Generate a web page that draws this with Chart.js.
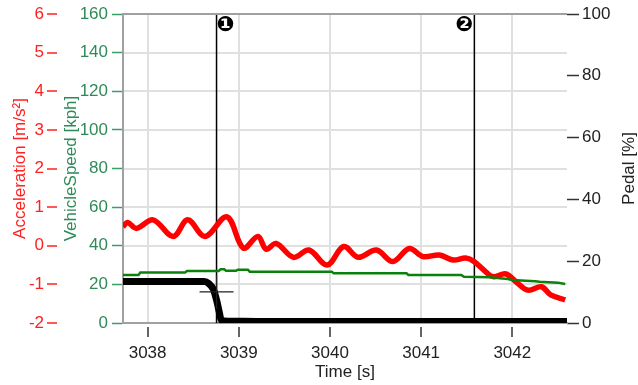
<!DOCTYPE html>
<html>
<head>
<meta charset="utf-8">
<script src="https://cdn.jsdelivr.net/npm/chart.js@4"></script>
<style>
  html, body { margin: 0; padding: 0; background: #fff; }
  #wrap { width: 638px; height: 385px; position: relative; }
</style>
</head>
<body>
<div id="wrap"><canvas id="chart"></canvas></div>
<script>
// acceleration [m/s²]
const accTime = [3037.73, 3037.78, 3037.88, 3038.06, 3038.28, 3038.44, 3038.63, 3038.87, 3039.05, 3039.21,
  3039.30, 3039.41, 3039.60, 3039.77, 3039.97, 3040.15, 3040.31, 3040.51, 3040.69, 3040.87,
  3041.02, 3041.20, 3041.35, 3041.49, 3041.58, 3041.75, 3041.80, 3041.93, 3042.04, 3042.17,
  3042.32, 3042.42, 3042.58];
const accValues = [0.49, 0.60, 0.45, 0.67, 0.24, 0.67, 0.24, 0.75, -0.06, 0.24,
  -0.09, 0.06, -0.30, -0.11, -0.50, -0.02, -0.30, -0.11, -0.41, -0.07,
  -0.28, -0.24, -0.37, -0.32, -0.41, -0.76, -0.80, -0.73, -0.93, -1.15,
  -1.06, -1.27, -1.40];

// vehicle speed [kph]
const speedTime = [3037.73, 3037.90, 3037.92, 3038.41, 3038.43, 3038.78, 3038.80, 3038.84, 3038.86, 3038.97,
  3038.99, 3039.10, 3039.12, 3040.02, 3040.04, 3040.84, 3040.86, 3041.44, 3041.47, 3041.75,
  3041.95, 3042.00, 3042.25, 3042.30, 3042.50, 3042.58];
const speedValues = [24.9, 24.9, 26.1, 26.1, 26.9, 26.9, 27.8, 27.8, 27.0, 27.0,
  27.6, 27.6, 26.6, 26.6, 25.7, 25.7, 24.9, 24.9, 23.9, 23.7,
  22.8, 22.3, 21.6, 21.3, 20.9, 20.2];

// pedal [%]
const pedalTime = [3037.73, 3038.62, 3038.67, 3038.72, 3038.76, 3038.79, 3038.81, 3038.90, 3039.20, 3042.60];
const pedalValues = [13.4, 13.4, 12.8, 11.0, 7.0, 3.0, 0.8, 0.6, 0.5, 0.5];

// cursors
const markTimes = [3038.756, 3041.584];
const markLabels = ['❶', '❷'];
const cursorPedal = 10.1;

const accTicks = { min: -2, max: 6, step: 1 };
const speedTicks = { min: 0, max: 160, step: 20 };
const pedalTicks = { min: 0, max: 100, step: 20 };
const timeRange = { min: 3037.73, max: 3042.6 };

const RED = '#ff2020';
const GREEN_TXT = '#2e8b57';
const GRID = '#e0e0e0';
const FRAME = '#a0a0a0';

Chart.defaults.font.family = '"Liberation Sans", Arial, sans-serif';
Chart.defaults.font.size = 17;

const pts = (xs, ys) => xs.map((x, i) => ({ x: x, y: ys[i] }));

// fixed axis box sizes, no extra label padding
const fixWidth = w => s => { s.width = w; s.paddingTop = 0; s.paddingBottom = 0; };

const markerDatasets = markTimes.map(t => ({
  data: [{ x: t, y: accTicks.min }, { x: t, y: accTicks.max }],
  yAxisID: 'acc',
  borderColor: '#000',
  borderWidth: 1.5,
  pointRadius: 0,
  order: 5
}));

const extras = {
  id: 'extras',
  afterDatasetsDraw(chart) {
    const { ctx, chartArea, scales } = chart;
    ctx.save();
    // top frame
    ctx.strokeStyle = FRAME;
    ctx.lineWidth = 2;
    ctx.beginPath();
    ctx.moveTo(chartArea.left - 1, chartArea.top);
    ctx.lineTo(chartArea.right, chartArea.top);
    ctx.stroke();
    // cursor numbers
    ctx.font = 'bold 21px "DejaVu Sans"';
    ctx.fillStyle = '#000';
    ctx.textBaseline = 'middle';
    markTimes.forEach((t, i) => {
      const px = scales.x.getPixelForValue(t);
      ctx.textAlign = i === 0 ? 'left' : 'right';
      ctx.fillText(markLabels[i], i === 0 ? px : px - 1, chartArea.top + 12);
    });
    ctx.restore();
  },
  afterDraw(chart) {
    const { ctx, chartArea } = chart;
    ctx.save();
    ctx.translate(629, (chartArea.top + chartArea.bottom) / 2);
    ctx.rotate(-Math.PI / 2);
    ctx.font = '17px "Liberation Sans", Arial, sans-serif';
    ctx.fillStyle = '#222';
    ctx.textAlign = 'center';
    ctx.textBaseline = 'middle';
    ctx.fillText('Pedal [%]', 0, 0);
    ctx.restore();
  }
};

new Chart(document.getElementById('chart'), {
  type: 'line',
  data: {
    datasets: [
      {
        label: 'Cursor',
        data: [{ x: markTimes[0], y: cursorPedal }],
        yAxisID: 'pedal',
        showLine: false,
        pointStyle: 'cross',
        pointRadius: 17,
        pointBorderWidth: 1.2,
        pointBorderColor: '#222',
        order: 0
      },
      {
        label: 'VehicleSpeed',
        data: pts(speedTime, speedValues),
        yAxisID: 'speed',
        borderColor: '#0b800b',
        borderWidth: 2.5,
        pointRadius: 0,
        order: 1
      },
      {
        label: 'Acceleration',
        data: pts(accTime, accValues),
        yAxisID: 'acc',
        borderColor: '#ff0000',
        borderWidth: 5.5,
        pointRadius: 0,
        tension: 0.35,
        order: 2
      },
      {
        label: 'Pedal',
        data: pts(pedalTime, pedalValues),
        yAxisID: 'pedal',
        borderColor: '#000',
        borderWidth: 7,
        pointRadius: 0,
        tension: 0.2,
        order: 3
      },
      ...markerDatasets
    ]
  },
  options: {
    responsive: true,
    maintainAspectRatio: false,
    animation: false,
    layout: { autoPadding: false, padding: { top: 14, left: 0, right: 0, bottom: 0 } },
    plugins: { legend: { display: false }, tooltip: { enabled: false } },
    scales: {
      x: {
        type: 'linear',
        position: 'bottom',
        min: timeRange.min,
        max: timeRange.max,
        ticks: {
          stepSize: 1,
          includeBounds: false,
          color: '#222',
          padding: 6,
          maxRotation: 0,
          callback: v => String(v)
        },
        grid: {
          color: GRID,
          lineWidth: 2,
          tickColor: '#333',
          tickLength: 14,
          tickWidth: 1.5,
          tickBorderDash: [0, 3, 11, 20]
        },
        border: { display: true, color: FRAME, width: 2 },
        title: { display: true, text: 'Time [s]', color: '#222', padding: { top: 0, bottom: 2 } },
        afterFit: s => { s.height = 62; s.paddingLeft = 0; s.paddingRight = 0; }
      },
      acc: {
        type: 'linear',
        position: 'left',
        weight: 1,
        min: accTicks.min,
        max: accTicks.max,
        ticks: { stepSize: accTicks.step, color: RED, padding: 3 },
        grid: { color: GRID, lineWidth: 2, tickColor: RED, tickLength: 10, tickWidth: 1.5 },
        border: { display: false },
        title: { display: true, text: 'Acceleration [m/s²]', color: RED, padding: { top: 10, bottom: 0 } },
        afterFit: fixWidth(57)
      },
      speed: {
        type: 'linear',
        position: 'left',
        weight: 0,
        min: speedTicks.min,
        max: speedTicks.max,
        ticks: { stepSize: speedTicks.step, color: GREEN_TXT, padding: 4 },
        grid: { drawOnChartArea: false, tickColor: '#3a9e68', tickLength: 11, tickWidth: 1.5 },
        border: { display: true, color: FRAME, width: 2 },
        title: { display: true, text: 'VehicleSpeed [kph]', color: GREEN_TXT, padding: { top: 4, bottom: 0 } },
        afterFit: fixWidth(66)
      },
      pedal: {
        type: 'linear',
        position: 'right',
        min: pedalTicks.min,
        max: pedalTicks.max,
        ticks: { stepSize: pedalTicks.step, color: '#222', padding: 3 },
        grid: { drawOnChartArea: false, tickColor: '#333', tickLength: 12, tickWidth: 1.5 },
        border: { display: false },
        title: { display: false },
        afterFit: fixWidth(71)
      }
    }
  },
  plugins: [extras]
});
</script>
</body>
</html>
